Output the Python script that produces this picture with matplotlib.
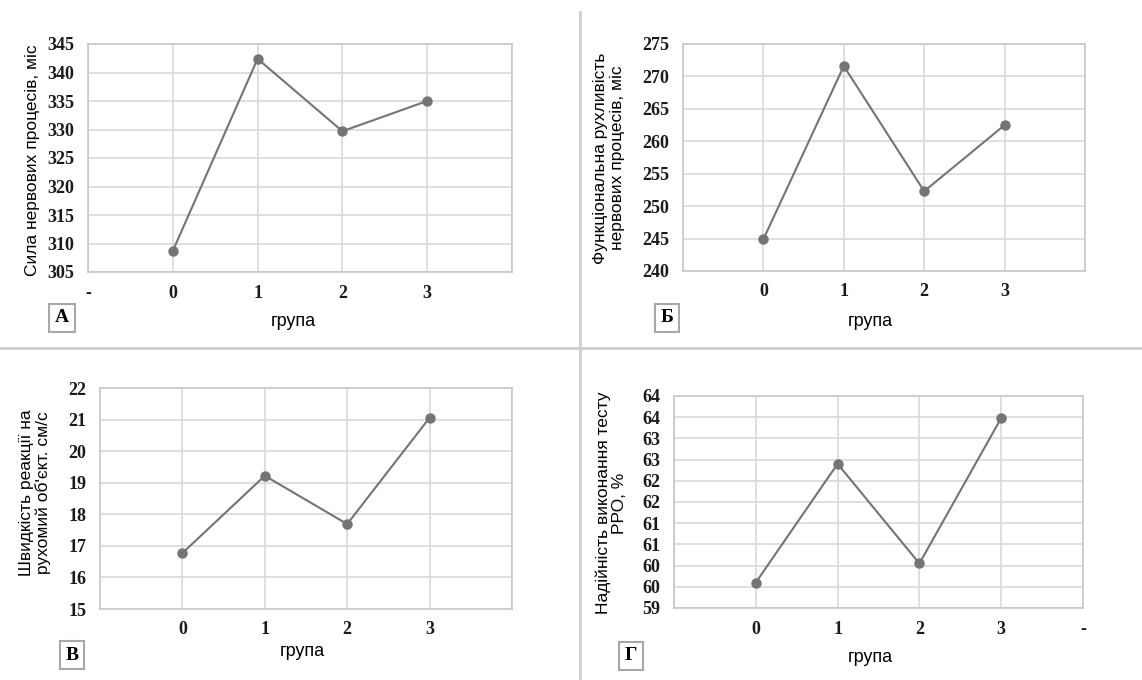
import matplotlib
matplotlib.use("Agg")
import matplotlib.pyplot as plt
from matplotlib.lines import Line2D
from matplotlib.ticker import FuncFormatter
import numpy as np

# Figure size in pixels (dpi 100)
W, H = 1142, 680

groups = [0, 1, 2, 3]

# Panel data
sila = [308.7, 342.4, 329.7, 335.0]
rukhlyvist = [244.9, 271.6, 252.3, 262.5]
shvydkist = [16.77, 19.22, 17.69, 21.06]
nadiinist = [59.6, 62.4, 60.05, 63.48]

ylabels = [
    "Сила нервових процесів, міс",
    "Функціональна рухливість\nнервових процесів, міс",
    "Швидкість реакції на\nрухомий об'єкт. см/с",
    "Надійність виконання тесту\nРРО, %",
]
letters = ["А", "Б", "В", "Г"]
xlabel = "група"

# y axis ranges / steps
ylims = [(305, 345, 5), (240, 275, 5), (15, 22, 1), (59, 64, 0.5)]

# x tick labels at positions -1..4
xtick_texts = [
    ["-", "0", "1", "2", "3", ""],
    ["", "0", "1", "2", "3", ""],
    ["", "0", "1", "2", "3", ""],
    ["", "0", "1", "2", "3", "-"],
]

# Layout in pixels: (left, right, top, bottom) of the plot area
boxes = [(88, 512, 44, 272), (683, 1085, 44, 271),
         (100, 512, 388, 609), (674, 1083, 396, 608)]
ylabel_pos = [(33, 160), (609, 158), (35, 493), (611, 503)]
xlabel_pos = [(293, 322), (870, 322), (302, 652), (870, 658)]
letter_pos = [(62, 318), (667, 318), (72, 655), (631, 656)]

line_color = "#747474"
grid_color = "#d9d9d9"
tick_font = "Liberation Serif"
label_font = "Liberation Sans"

series = [sila, rukhlyvist, shvydkist, nadiinist]

fig = plt.figure(figsize=(W / 100, H / 100), dpi=100)
fig.patch.set_facecolor("white")


def fx(px):
    return px / W


def fy(py):
    return 1 - py / H


def half_up(v, pos):
    return str(int(np.floor(v + 0.5)))


for i in range(4):
    l, r, t, b = boxes[i]
    ax = fig.add_axes([fx(l), fy(b), fx(r - l), (b - t) / H])
    ax.plot(groups, series[i], color=line_color, lw=1.5, marker="o",
            markersize=6.5, markerfacecolor=line_color, markeredgecolor=line_color,
            zorder=3)

    lo, hi, step = ylims[i]
    ax.set_ylim(lo, hi)
    ax.set_yticks(np.arange(lo, hi + step / 2, step))
    if i == 3:
        ax.yaxis.set_major_formatter(FuncFormatter(half_up))
    else:
        ax.yaxis.set_major_formatter(FuncFormatter(lambda v, p: f"{v:g}"))

    ax.set_xlim(-1, 4)
    ax.set_xticks(range(-1, 5))
    ax.set_xticklabels(xtick_texts[i])

    ax.grid(True, color=grid_color, lw=1.2)
    ax.set_axisbelow(True)
    for s in ax.spines.values():
        s.set_color("#c8c8c8")
        s.set_linewidth(1.2)
    ax.tick_params(length=0, labelsize=13, pad=9)
    ax.tick_params(axis="y", pad=10)
    for lab in ax.get_xticklabels() + ax.get_yticklabels():
        lab.set_fontfamily(tick_font)
        lab.set_fontweight("bold")
        lab.set_color("#1a1a1a")

    # y axis title
    yx, yy = ylabel_pos[i]
    ax.set_ylabel(ylabels[i], family=label_font, fontsize=12.5,
                  va="center", ha="center", linespacing=1.1)
    ax.yaxis.set_label_coords((yx - l) / (r - l), (b - yy) / (b - t))

    # x axis title
    xx, xy = xlabel_pos[i]
    ax.set_xlabel(xlabel, family=label_font, fontsize=13, va="center")
    ax.xaxis.set_label_coords((xx - l) / (r - l), (b - xy) / (b - t))

    # panel letter in a box
    px, py = letter_pos[i]
    fig.text(fx(px), fy(py), letters[i], family=tick_font, fontweight="bold",
             fontsize=14, ha="center", va="center",
             bbox=dict(boxstyle="square,pad=0.3", fc="white", ec="#a8a8a8", lw=1.5))

# panel separators
fig.add_artist(Line2D([0, 1], [fy(348), fy(348)], color="#cfcfcf", lw=2))
fig.add_artist(Line2D([fx(580), fx(580)], [fy(12), 0], color="#cfcfcf", lw=2))

fig.savefig("out.png", dpi=100)
